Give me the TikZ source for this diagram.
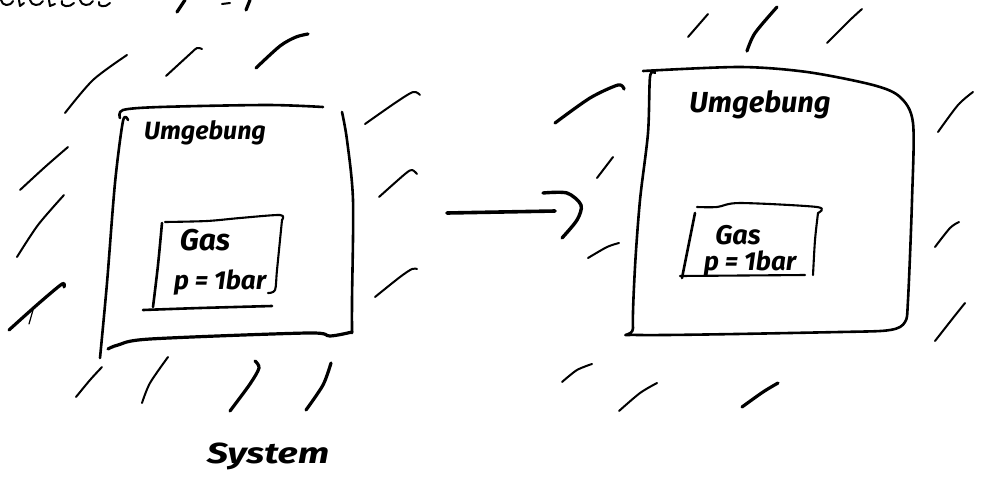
\documentclass[tikz,border=0pt]{standalone}
\usepackage{fontspec}
\setmainfont{Fira Sans}
\begin{document}
\begin{tikzpicture}[x=1pt,y=-1pt,
  pen/.style={line width=2.6pt,line cap=round,line join=round},
  thinpen/.style={line width=2.1pt,line cap=round,line join=round},
  hatch/.style={line width=2.0pt,line cap=round,line join=round},
  boldhatch/.style={line width=3.2pt,line cap=round,line join=round},
  hand/.style={inner sep=0pt}]
\useasboundingbox (0,0) rectangle (981,485);

% cut-off heading at the top edge
\draw[hatch] (1,0) .. controls (2,6) and (10,7) .. (13,1);
\draw[hatch] (19,0) -- (20,6) -- (24,3);
\draw[hatch] (30,0) .. controls (31,6) and (40,7) .. (43,1);
\draw[hatch] (49,0) -- (50,6) -- (55,4);
\draw[hatch] (62,1) .. controls (60,7) and (70,8) .. (74,3);
\draw[hatch] (80,0) .. controls (81,6) and (90,7) .. (93,1);
\draw[hatch] (99,2) .. controls (97,7) and (106,8) .. (110,3);
\draw[boldhatch] (177,12) -- (185,0);
\draw[hatch] (222,4) -- (230,3);
\draw[boldhatch] (246,10) -- (250,0);

% ---------- left: system with surroundings ----------
\draw[pen] plot[smooth] coordinates {(120,118) (123,110) (160,107) (267,105) (323,107)};
\draw[pen] plot[smooth] coordinates {(128,120) (123,121) (115,183) (107,283) (100,358)};
\draw[line width=3.2pt,line cap=round] plot[smooth] coordinates {(108,349) (118,345) (150,339) (307,333) (330,336) (352,332)};
\draw[pen] plot[smooth] coordinates {(342,112) (347,140) (353,200) (352,300) (352,333)};

\draw[thinpen] plot[smooth] coordinates {(165,222) (207,221) (240,218) (280,215) (282,220)};
\draw[thinpen] plot[smooth] coordinates {(282,220) (277,270) (275,290) (268,293)};
\draw[pen] plot[smooth] coordinates {(162,223) (158,265) (153,307)};
\draw[pen] plot[smooth] coordinates {(143,310) (200,308) (272,306)};

\node[hand,font=\bfseries\itshape\fontsize{25}{25}\selectfont] (lumg) at (205,133) {Umgebung};
\node[hand,font=\bfseries\itshape\fontsize{30}{30}\selectfont] (lgas) at (205,240) {Gas};
\node[hand,font=\bfseries\itshape\fontsize{26}{26}\selectfont] (lp) at (220,283) {p = 1bar};
\node[hand,font=\bfseries\itshape\fontsize{29}{29}\selectfont,xscale=1.3] (sys) at (268,456) {System};

% hatching round the left box
\draw[hatch] plot[smooth] coordinates {(65,113) (93,80) (127,55)};
\draw[hatch] plot[smooth] coordinates {(166,76) (190,54) (197,48) (202,49)};
\draw[boldhatch] plot[smooth] coordinates {(256,68) (280,46) (296,37) (308,34)};
\draw[hatch] plot[smooth] coordinates {(365,124) (395,103) (413,92) (420,95)};
\draw[hatch] plot[smooth] coordinates {(20,190) (45,167) (68,147)};
\draw[hatch] plot[smooth] coordinates {(17,257) (38,225) (64,195)};
\draw[boldhatch] plot[smooth] coordinates {(9,330) (38,304) (62,284) (64,287)};
\draw[line width=1.2pt,line cap=round] (29,324) -- (33,310);
\draw[hatch] plot[smooth] coordinates {(379,197) (405,174) (412,170) (417,174)};
\draw[hatch] plot[smooth] coordinates {(375,297) (400,277) (412,269) (417,269)};
\draw[hatch] plot[smooth] coordinates {(76,397) (90,380) (102,367)};
\draw[hatch] plot[smooth] coordinates {(142,403) (150,383) (168,357)};
\draw[boldhatch] plot[smooth] coordinates {(230,411) (250,384) (259,368) (255,361)};
\draw[boldhatch] plot[smooth] coordinates {(306,410) (323,385) (331,363)};

% ---------- arrow ----------
\coordinate (arrS) at (447,213);
\coordinate (arrE) at (555,211);
\draw[line width=3.6pt,line cap=round] (arrS) -- (arrE);
\draw[line width=3.4pt,line cap=round] plot[smooth] coordinates {(543,193) (567,193) (581,205) (577,220) (562,238)};

% ---------- right: system after the change ----------
\draw[pen] plot[smooth] coordinates {(643,71) (740,67) (807,72) (873,85) (900,97) (913,123) (912,200) (908,300) (905,322) (890,330) (840,332) (640,335) (633,328) (635,267) (640,200) (648,133) (650,77) (655,73)};

\draw[thinpen] plot[smooth] coordinates {(697,207) (717,207) (740,203) (817,207) (818,213)};
\draw[thinpen] plot[smooth] coordinates {(818,213) (815,240) (813,275)};
\draw[thinpen] plot[smooth] coordinates {(680,276) (805,275)};
\draw[pen] plot[smooth] coordinates {(695,213) (682,278)};

\node[hand,font=\bfseries\itshape\fontsize{29}{29}\selectfont] (rumg) at (760,105) {Umgebung};
\node[hand,font=\bfseries\itshape\fontsize{27}{27}\selectfont] (rgas) at (738,235) {Gas};
\node[hand,font=\bfseries\itshape\fontsize{26}{26}\selectfont] (rp) at (750,264) {p = 1bar};

% hatching round the right box
\draw[hatch] plot[smooth] coordinates {(688,37) (708,14)};
\draw[boldhatch] plot[smooth] coordinates {(747,51) (755,33) (777,7)};
\draw[hatch] plot[smooth] coordinates {(827,43) (850,20) (862,9)};
\draw[boldhatch] plot[smooth] coordinates {(555,123) (590,98) (618,85) (624,89)};
\draw[hatch] plot[smooth] coordinates {(597,178) (613,157)};
\draw[hatch] plot[smooth] coordinates {(588,258) (607,247) (619,243)};
\draw[hatch] plot[smooth] coordinates {(938,132) (958,105) (973,92)};
\draw[hatch] plot[smooth] coordinates {(935,247) (950,228) (959,222)};
\draw[hatch] plot[smooth] coordinates {(935,341) (953,318) (965,303)};
\draw[hatch] plot[smooth] coordinates {(562,382) (577,370) (592,364)};
\draw[hatch] plot[smooth] coordinates {(619,411) (640,393) (657,383)};
\draw[boldhatch] plot[smooth] coordinates {(742,407) (763,392) (778,383)};
\end{tikzpicture}
\end{document}
